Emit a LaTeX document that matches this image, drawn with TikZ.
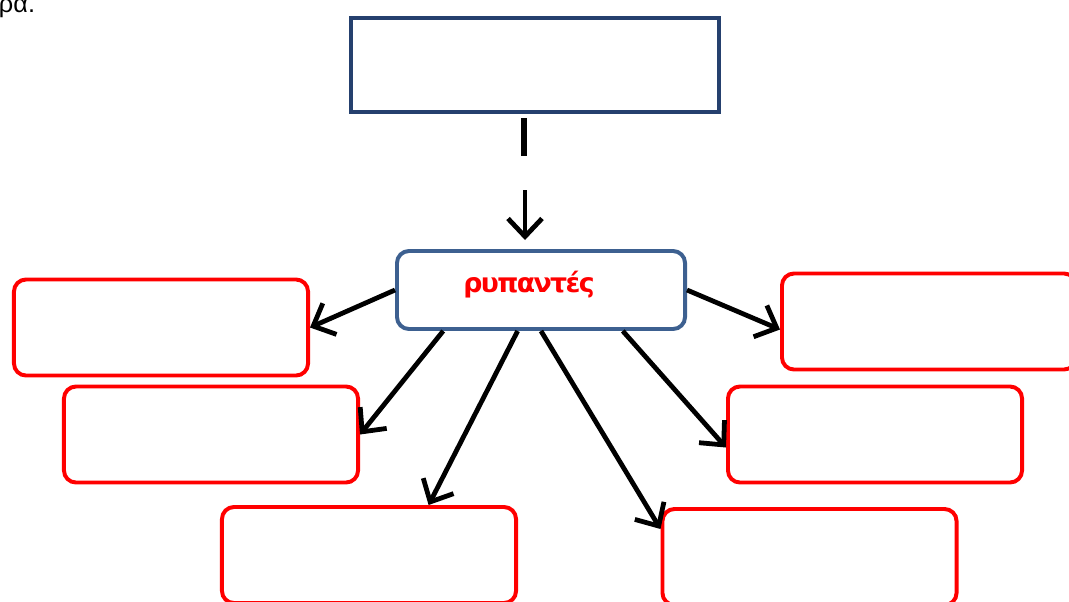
\documentclass[tikz,border=0pt]{standalone}
\usepackage{fontspec}
\setmainfont{Liberation Sans}
\newfontfamily\labelfont[LetterSpace=-6]{DejaVu Sans}
\usepackage{xcolor}
\usetikzlibrary{positioning,calc,arrows.meta}

\definecolor{navyline}{RGB}{37,64,110}
\definecolor{steelline}{RGB}{61,96,144}
\definecolor{boxred}{RGB}{255,0,0}

\begin{document}
\begin{tikzpicture}[x=0.025cm,y=-0.025cm,
    topbox/.style={draw=navyline, line width=2.8pt, minimum width=9.2cm, minimum height=2.35cm},
    centerbox/.style={draw=steelline, line width=2.8pt, rounded corners=0.3cm, minimum width=7.2cm, minimum height=1.95cm},
    centertext/.style={text=boxred, font=\labelfont\bfseries\fontsize{19}{22}\selectfont},
    redbox/.style={draw=boxred, line width=2.8pt, rounded corners=0.3cm, minimum width=7.35cm, minimum height=2.4cm},
    arr/.style={line width=3.4pt, -{Straight Barb[length=4.5mm,width=8.5mm]}}]
    \useasboundingbox (0,0) rectangle (1069,601);

    \node[anchor=base east, font=\fontsize{18}{20}\selectfont] (prev) at (40,12) {ρα.};

    \node[topbox] (source) at (535,65) {}; % Empty top box
    \coordinate (gapA) at (524,118);
    \coordinate (gapB) at (524,156);
    \coordinate (tipA) at (525,190);
    \coordinate (tipB) at (525,240);
    \draw[line width=3.6pt] (gapA) -- (gapB);
    \draw[arr] (tipA) -- (tipB);

    \node[centerbox] (pollutants) at (541,290) {};
    \node[centertext] (pollutantsLabel) at (529,285) {ρυπαντές};

    % Empty red boxes
    \node[redbox] (p1) at (161,327.5) {};
    \node[redbox] (p2) at (211,434.5) {};
    \node[redbox] (p3) at (369,555) {};
    \node[redbox] (p4) at (929,321.5) {};
    \node[redbox] (p5) at (875,434.5) {};
    \node[redbox] (p6) at (809.5,557) {};

    % Arrows
    \draw[arr] (pollutants.west) -- (p1.east);
    \draw[arr] ($(pollutants.south west)!0.165!(pollutants.south east)$) -- (p2.east);
    \draw[arr] ($(pollutants.south west)!0.42!(pollutants.south east)$) -- ($(p3.north west)!0.7!(p3.north east)$);
    \draw[arr] ($(pollutants.south west)!0.5!(pollutants.south east)$) -- ($(p6.north west)!0.22!(p6.south west)$);
    \draw[arr] ($(pollutants.south west)!0.78!(pollutants.south east)$) -- ($(p5.north west)!0.63!(p5.south west)$);
    \draw[arr] (pollutants.east) -- ($(p4.north west)!0.58!(p4.south west)$);
\end{tikzpicture}
\end{document}
